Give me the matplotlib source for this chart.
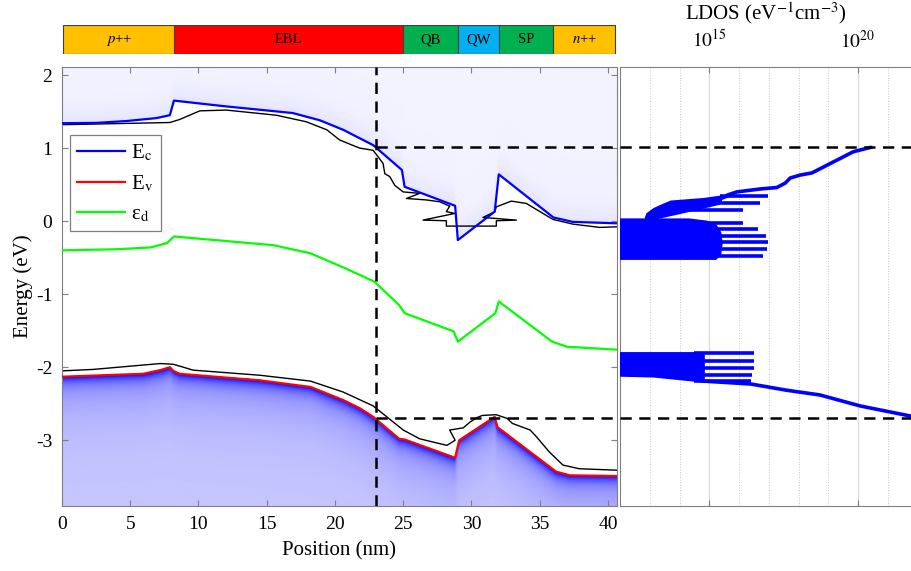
import numpy as np
import matplotlib
matplotlib.use('Agg')
import matplotlib.pyplot as plt
from matplotlib.colors import LinearSegmentedColormap

plt.rcParams['font.family'] = ['Liberation Serif', 'DejaVu Serif']
plt.rcParams['mathtext.fontset'] = 'stix'
plt.rcParams['axes.unicode_minus'] = False

# ---------------- data: band diagram ----------------
ec_x = [0, 2.5, 4.7, 6.9, 7.9, 8.2, 12.05, 16.9, 18.9, 20.6, 22.8, 24.9, 25.1, 28.8, 29.0, 31.7, 32.0, 36.0, 37.4, 40.66]
ec_E = [1.34, 1.345, 1.37, 1.41, 1.45, 1.65, 1.57, 1.48, 1.38, 1.25, 1.04, 0.70, 0.47, 0.21, -0.26, 0.13, 0.64, 0.05, -0.01, -0.03]

ev_x = [0, 5.95, 7.2, 7.9, 8.15, 8.6, 14.5, 18.2, 20.6, 21.8, 22.8, 24.7, 25.1, 28.8, 29.1, 31.7, 31.9, 36.2, 37.2, 40.66]
ev_E = [-2.13, -2.09, -2.04, -2.0, -2.05, -2.09, -2.18, -2.27, -2.45, -2.56, -2.68, -2.98, -2.99, -3.24, -3.0, -2.68, -2.82, -3.43, -3.48, -3.49]

ed_x = [0, 4.0, 6.5, 7.7, 8.2, 15.5, 18.2, 20.8, 22.9, 24.7, 25.1, 28.7, 29.0, 31.75, 32.0, 35.9, 37.0, 40.66]
ed_E = [-0.40, -0.385, -0.36, -0.30, -0.21, -0.33, -0.44, -0.65, -0.83, -1.15, -1.26, -1.51, -1.65, -1.26, -1.10, -1.65, -1.72, -1.76]

# LDOS contour lines (black)
bc_x = [0, 7.9, 8.6, 10.1, 12.05, 15.7, 17.9, 19.4, 20.35, 21.8, 22.79, 23.16, 23.52, 23.65, 24.01, 24.38, 24.99,
        26.21, 25.23, 26.70, 27.67, 28.40, 28.16, 28.77, 26.45, 28.16, 28.16, 31.82, 31.82, 33.29, 30.84, 31.70,
        31.82, 32.92, 34.02, 35.97, 37.43, 39.39, 40.66]
bc_E = [1.32, 1.35, 1.39, 1.51, 1.52, 1.45, 1.36, 1.25, 1.11, 1.00, 0.97, 0.88, 0.79, 0.65, 0.61, 0.49, 0.40,
        0.38, 0.31, 0.29, 0.265, 0.205, 0.13, 0.105, 0.014, 0.005, -0.068, -0.068, 0.005, 0.014, 0.05, 0.128,
        0.196, 0.274, 0.242, 0.023, -0.041, -0.086, -0.078]

bv_x = [0, 2.3, 5.95, 7.2, 8.15, 8.9, 9.6, 14.5, 18.2, 20.6, 22.8, 25.0, 26.2, 28.2, 28.8, 28.4, 29.4, 29.9,
        30.4, 30.8, 31.8, 32.6, 33.0, 34.3, 34.75, 35.7, 36.7, 37.9, 40.66]
bv_E = [-2.05, -2.03, -1.97, -1.95, -1.96, -2.0, -2.04, -2.11, -2.19, -2.34, -2.53, -2.86, -2.98, -3.07, -3.0,
        -2.86, -2.83, -2.75, -2.69, -2.66, -2.65, -2.70, -2.77, -2.86, -2.95, -3.16, -3.34, -3.39, -3.41]

x_cut = 23.0
e_cut_c = 1.02
e_cut_v = -2.70

layers = ['$p$++', 'EBL', 'QB', 'QW', 'SP', '$n$++']
layer_edges = [0.1, 8.2, 25.0, 29.0, 32.0, 36.0, 40.5]
layer_colors = ['#ffc000', '#ff0000', '#00b050', '#00b0f0', '#00b050', '#ffc000']

# ---------------- data: LDOS at x = 23 nm (log10 values) ----------------
cb_tail_E = [1.01, 0.95, 0.81, 0.66, 0.63, 0.59, 0.52, 0.46, 0.44, 0.40, 0.356]
cb_tail_log = [20.43, 19.84, 19.17, 18.45, 18.05, 17.72, 17.55, 17.27, 16.71, 15.93, 15.6]

cb_blk1_E = [0.356, 0.31, 0.275, 0.242, 0.174, 0.105, 0.05]
cb_blk1_lo = [15.6, 14.8, 13.7, 13.5, 13.13, 12.9, 12.85]
cb_blk1_hi = [15.7, 15.4, 15.35, 15.3, 14.6, 13.86, 13.25]
cb_spk1_E = [0.35, 0.25, 0.15]
cb_spk1_log = [16.99, 16.71, 16.15]

cb_blk2_E = [0.03, 0.0, -0.05, -0.15, -0.30, -0.45, -0.51]
cb_blk2_hi = [14.3, 14.9, 15.2, 15.35, 15.4, 15.35, 15.2]
cb_spk2_E = [-0.02, -0.11, -0.21, -0.29, -0.38, -0.48]
cb_spk2_log = [16.15, 16.65, 16.91, 16.97, 16.94, 16.82]

vb_blk_E = [-1.80, -1.90, -2.00, -2.10, -2.12, -2.19]
vb_blk_lo = [11.0, 11.0, 11.0, 11.0, 13.1, 14.8]
vb_blk_hi = [14.8, 14.8, 14.8, 14.8, 14.8, 14.8]
vb_spk_E = [-1.81, -1.92, -2.01, -2.10, -2.19]
vb_spk_log = [16.49, 16.49, 16.49, 16.45, 16.4]
vb_tail_E = [-2.19, -2.23, -2.315, -2.38, -2.53, -2.67]
vb_tail_log = [14.8, 16.4, 17.6, 18.72, 20.07, 21.78]

# ---------------- figure ----------------
W, H = 911, 571
fig = plt.figure(figsize=(W / 100, H / 100), dpi=100)

def fx(px):
    return px / W

def fy(py):
    return 1 - py / H

ax = fig.add_axes([fx(62), fy(506), fx(617) - fx(62), fy(67) - fy(506)])
axr = fig.add_axes([fx(620), fy(506), 1 - fx(620), fy(67) - fy(506)])
axb = fig.add_axes([fx(62), fy(54), fx(617) - fx(62), fy(25) - fy(54)])

xmin, xmax = 0, 40.66
ymin, ymax = -3.9, 2.11
spine_c = '#7f7f7f'

# background LDOS shading derived from band edges
gx = np.linspace(xmin, xmax, 500)
gy = np.linspace(ymin, ymax, 400)
GX, GY = np.meshgrid(gx, gy)
ec_i = np.interp(GX, ec_x, ec_E)
ev_i = np.interp(GX, ev_x, ev_E)
inten = np.zeros_like(GX)
dc = GY - ec_i
mc = dc > 0
inten[mc] = 0.05 + 0.06 * np.exp(-dc[mc] / 0.2)
dv = ev_i - GY
mv = dv > 0
inten[mv] = 0.22 + 0.28 * np.exp(-dv[mv] / 0.45) + 0.55 * np.exp(-dv[mv] / 0.07)
inten = np.clip(inten, 0, 1)
cmap = LinearSegmentedColormap.from_list('wb', ['#ffffff', '#0000ff'])
ax.imshow(inten, extent=[xmin, xmax, ymin, ymax], origin='lower', aspect='auto',
          cmap=cmap, vmin=0, vmax=1, interpolation='bilinear', zorder=0)

ax.plot(bc_x, bc_E, color='black', lw=1.0, zorder=2)
ax.plot(bv_x, bv_E, color='black', lw=1.0, zorder=2)
l1, = ax.plot(ec_x, ec_E, color='#0000ff', lw=1.6, zorder=3, label='E$_{\\rm c}$')
l2, = ax.plot(ev_x, ev_E, color='#ff0000', lw=1.6, zorder=3, label='E$_{\\rm v}$')
l3, = ax.plot(ed_x, ed_E, color='#00ff00', lw=1.6, zorder=3, label='ε$_{\\rm d}$')

dash = (0, (4.5, 3))
ax.axvline(x_cut, color='black', lw=1.8, ls=dash, zorder=4)
ax.plot([x_cut, xmax], [e_cut_c, e_cut_c], color='black', lw=1.8, ls=dash, zorder=4)
ax.plot([x_cut, xmax], [e_cut_v, e_cut_v], color='black', lw=1.8, ls=dash, zorder=4)

ax.set_xlim(xmin, xmax)
ax.set_ylim(ymin, ymax)
ax.set_xticks(range(0, 41, 5))
ax.set_yticks(range(-3, 3))
ax.tick_params(direction='in', top=True, right=True, length=4, width=0.8, color=spine_c,
               labelsize=14, pad=7)
for s in ax.spines.values():
    s.set_color(spine_c)
ax.set_xlabel('Position (nm)', fontsize=15, labelpad=6)
ax.set_ylabel('Energy (eV)', fontsize=15, labelpad=2)

leg = ax.legend(handles=[l1, l2, l3], loc='upper left', bbox_to_anchor=(0.0144, 0.845),
                fontsize=15, frameon=True, fancybox=False, edgecolor=spine_c, framealpha=1,
                handlelength=2.3, handletextpad=0.3, labelspacing=0.5, borderpad=0.35,
                borderaxespad=0)
leg.get_frame().set_linewidth(0.9)

# ---------------- LDOS panel ----------------
p = lambda v: 10 ** np.asarray(v, dtype=float)
lw_r = 2.6
bc = '#0000ff'
axr.plot(p(cb_tail_log), cb_tail_E, color=bc, lw=lw_r, solid_capstyle='round', zorder=3)
axr.fill_betweenx(cb_blk1_E, p(cb_blk1_lo), p(cb_blk1_hi), color=bc, lw=1.5, edgecolor=bc, zorder=3)
axr.hlines(cb_spk1_E, p(np.interp(cb_spk1_E, cb_blk1_E[::-1], cb_blk1_hi[::-1])) * 0.5, p(cb_spk1_log),
           color=bc, lw=lw_r, zorder=3)
axr.fill_betweenx(cb_blk2_E, p([11.0] * len(cb_blk2_E)), p(cb_blk2_hi), color=bc, lw=1.5, edgecolor=bc, zorder=3)
axr.hlines(cb_spk2_E, p(np.interp(cb_spk2_E, cb_blk2_E[::-1], cb_blk2_hi[::-1])) * 0.5, p(cb_spk2_log),
           color=bc, lw=lw_r, zorder=3)
axr.fill_betweenx(vb_blk_E, p(vb_blk_lo), p(vb_blk_hi), color=bc, lw=1.5, edgecolor=bc, zorder=3)
axr.hlines(vb_spk_E, p([14.5] * len(vb_spk_E)), p(vb_spk_log), color=bc, lw=lw_r, zorder=3)
axr.plot(p(vb_tail_log), vb_tail_E, color=bc, lw=lw_r, solid_capstyle='round', zorder=3)

axr.set_xscale('log')
lx0, lx1 = 1e12, 10 ** 21.78
axr.plot([lx0, lx1], [e_cut_c, e_cut_c], color='black', lw=1.8, ls=dash, zorder=4)
axr.plot([lx0, lx1], [e_cut_v, e_cut_v], color='black', lw=1.8, ls=dash, zorder=4)
axr.set_xlim(lx0, lx1)
axr.set_ylim(ymin, ymax)
axr.set_xticks([1e15, 1e20])
axr.set_xticklabels(['$10^{15}$', '$10^{20}$'])
axr.set_xticks([10.0 ** k for k in range(12, 22) if k not in (15, 20)], minor=True)
axr.xaxis.set_minor_formatter(matplotlib.ticker.NullFormatter())
axr.set_yticks([])
axr.tick_params(axis='x', which='major', direction='in', top=True, bottom=True, labeltop=True,
                labelbottom=False, length=4, color=spine_c, labelsize=14, pad=11)
axr.tick_params(axis='x', which='minor', length=0)
axr.xaxis.set_label_position('top')
axr.set_xlabel('LDOS (eV$^{-1}$cm$^{-3}$)', fontsize=15, labelpad=7)
axr.grid(which='major', axis='x', color='#d9d9d9', lw=0.9, ls='-', zorder=0)
axr.grid(which='minor', axis='x', color='#c8c8c8', lw=0.7, ls=':', zorder=0)
for k, s in axr.spines.items():
    s.set_color(spine_c)
axr.spines['right'].set_visible(False)

# ---------------- layer bar ----------------
for name, a, b, c in zip(layers, layer_edges[:-1], layer_edges[1:], layer_colors):
    axb.barh(0, b - a, left=a, height=1, color=c, edgecolor='#404040', lw=0.8)
    axb.text((a + b) / 2, 0, name, ha='center', va='center', fontsize=10.5)
axb.set_xlim(xmin, xmax)
axb.set_ylim(-0.5, 0.5)
axb.axis('off')

fig.savefig('out.png', dpi=100)
